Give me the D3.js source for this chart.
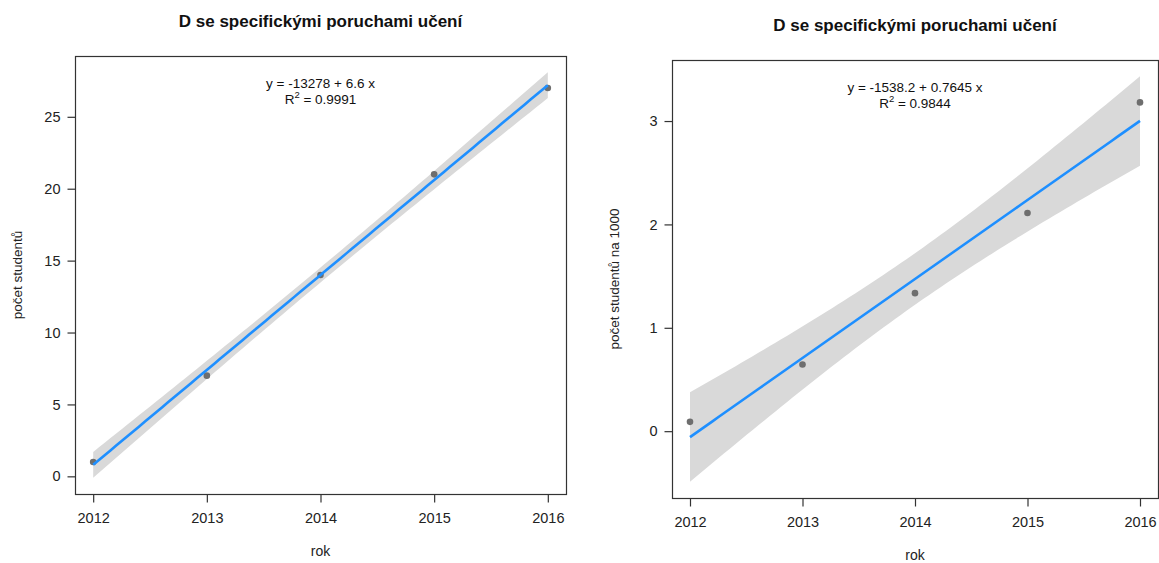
<!DOCTYPE html>
<html>
<head>
<meta charset="utf-8">
<script src="https://cdn.jsdelivr.net/npm/d3@7"></script>
<style>
  html, body { margin: 0; padding: 0; background: #fff; }
  svg { display: block; font-family: "Liberation Sans", Arial, sans-serif; }
</style>
</head>
<body>
<svg id="chart" width="1159" height="563"></svg>
<script>
// ---- data ----
const years = [2012, 2013, 2014, 2015, 2016];
const studentCounts = [1, 7, 14, 21, 27];
const studentsPer1000 = [0.09, 0.645, 1.335, 2.11, 3.18];
const xTickLabels = ["2012", "2013", "2014", "2015", "2016"];
const yTicksLeft = [0, 5, 10, 15, 20, 25];
const yTicksRight = [0, 1, 2, 3];
const titles = ["D se specifickými poruchami učení", "D se specifickými poruchami učení"];
const yAxisTitles = ["počet studentů", "počet studentů na 1000"];
const xAxisTitle = "rok";
const equations = ["y = -13278 + 6.6 x", "y = -1538.2 + 0.7645 x"];
const rSquared = ["0.9991", "0.9844"];

// ---- linear fit with 95% confidence band (like stat_smooth(method="lm")) ----
function fitLM(xs, ys) {
  const n = xs.length;
  const mx = d3.mean(xs), my = d3.mean(ys);
  const sxx = d3.sum(xs, x => (x - mx) ** 2);
  const sxy = d3.sum(xs.map((x, i) => (x - mx) * (ys[i] - my)));
  const b = sxy / sxx, a = my - b * mx;
  const sse = d3.sum(xs.map((x, i) => (ys[i] - (a + b * x)) ** 2));
  const s = Math.sqrt(sse / (n - 2));
  const t = 3.182446; // qt(0.975, df = 3)
  const grid = d3.range(80).map(i => d3.min(xs) + (d3.max(xs) - d3.min(xs)) * i / 79);
  return grid.map(x => {
    const fit = a + b * x;
    const se = s * Math.sqrt(1 / n + (x - mx) ** 2 / sxx);
    return { x, fit, lo: fit - t * se, hi: fit + t * se };
  });
}

const svg = d3.select("#chart");

function panel(cfg) {
  const { left, right, top, bottom, xs, ys, yTicks, title, yTitle, eq, r2 } = cfg;
  const g = svg.append("g");
  const smooth = fitLM(xs, ys);

  const xmin = d3.min(xs), xmax = d3.max(xs), xr = xmax - xmin;
  const x = d3.scaleLinear().domain([xmin - 0.04 * xr, xmax + 0.04 * xr]).range([left, right]);
  const ylo = Math.min(d3.min(smooth, d => d.lo), d3.min(ys));
  const yhi = Math.max(d3.max(smooth, d => d.hi), d3.max(ys));
  const yr = yhi - ylo;
  const y = d3.scaleLinear().domain([ylo - 0.04 * yr, yhi + 0.04 * yr]).range([bottom, top]);

  // band
  g.append("path")
    .datum(smooth)
    .attr("fill", "#d9d9d9")
    .attr("d", d3.area().x(d => x(d.x)).y0(d => y(d.lo)).y1(d => y(d.hi)));

  // points
  g.selectAll("circle.pt").data(xs.map((v, i) => [v, ys[i]])).join("circle")
    .attr("class", "pt")
    .attr("cx", d => x(d[0])).attr("cy", d => y(d[1]))
    .attr("r", 3.3).attr("fill", "#6e6e6e");

  // fit line
  g.append("path")
    .datum(smooth)
    .attr("fill", "none").attr("stroke", "#1e8fff").attr("stroke-width", 2.6)
    .attr("d", d3.line().x(d => x(d.x)).y(d => y(d.fit)));

  // box
  g.append("rect")
    .attr("x", left + 0.5).attr("y", top + 0.5)
    .attr("width", right - left).attr("height", bottom - top)
    .attr("fill", "none").attr("stroke", "#333").attr("stroke-width", 1.2);

  // x axis
  const xAxis = d3.axisBottom(x).tickValues(xs).tickSize(8).tickPadding(10)
    .tickFormat((d, i) => xTickLabels[i]);
  const xa = g.append("g").attr("transform", `translate(0,${bottom + 0.5})`).call(xAxis);
  xa.select(".domain").remove();
  xa.selectAll("line").attr("stroke", "#333").attr("stroke-width", 1.2);
  xa.selectAll("text").attr("font-size", 14.5).attr("fill", "#222")
    .attr("font-family", "Liberation Sans, Arial, sans-serif");

  // y axis
  const yAxis = d3.axisLeft(y).tickValues(yTicks).tickSize(8).tickPadding(7)
    .tickFormat(d3.format("d"));
  const ya = g.append("g").attr("transform", `translate(${left + 0.5},0)`).call(yAxis);
  ya.select(".domain").remove();
  ya.selectAll("line").attr("stroke", "#333").attr("stroke-width", 1.2);
  ya.selectAll("text").attr("font-size", 14.5).attr("fill", "#222")
    .attr("font-family", "Liberation Sans, Arial, sans-serif");

  const cx = (left + right) / 2;
  // title
  g.append("text").attr("x", cx).attr("y", top - 29)
    .attr("text-anchor", "middle").attr("font-size", 17).attr("font-weight", "bold")
    .attr("fill", "#111").text(title);

  // x title
  g.append("text").attr("x", cx).attr("y", bottom + 62)
    .attr("text-anchor", "middle").attr("font-size", 14).attr("fill", "#222").text(xAxisTitle);

  // y title
  g.append("text")
    .attr("transform", `translate(${left - 53},${(top + bottom) / 2}) rotate(-90)`)
    .attr("text-anchor", "middle").attr("font-size", 13.5).attr("fill", "#222").text(yTitle);

  // equation
  g.append("text").attr("x", cx).attr("y", top + 32)
    .attr("text-anchor", "middle").attr("font-size", 13.5).attr("fill", "#111").text(eq);
  const r = g.append("text").attr("x", cx).attr("y", top + 48)
    .attr("text-anchor", "middle").attr("font-size", 13.5).attr("fill", "#111");
  r.append("tspan").text("R");
  r.append("tspan").attr("font-size", 9.5).attr("dy", -6).text("2");
  r.append("tspan").attr("dy", 6).text(" = " + r2);
}

panel({ left: 75, right: 566, top: 56, bottom: 494, xs: years, ys: studentCounts,
  yTicks: yTicksLeft, title: titles[0], yTitle: yAxisTitles[0], eq: equations[0], r2: rSquared[0] });
panel({ left: 672, right: 1158, top: 60, bottom: 498, xs: years, ys: studentsPer1000,
  yTicks: yTicksRight, title: titles[1], yTitle: yAxisTitles[1], eq: equations[1], r2: rSquared[1] });
</script>
</body>
</html>
